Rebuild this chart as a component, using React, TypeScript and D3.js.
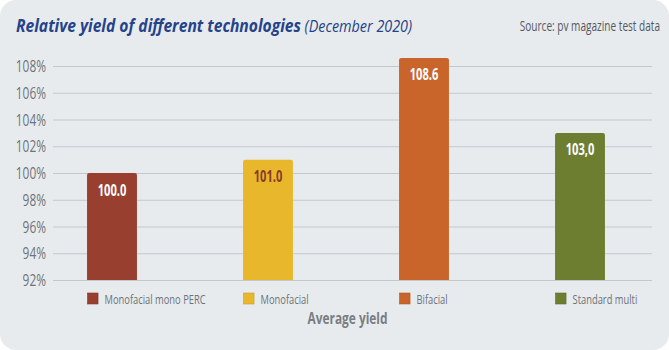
import React, { useEffect, useRef } from "react";
import * as d3 from "d3";

// chart data
const categories = ["Monofacial mono PERC", "Monofacial", "Bifacial", "Standard multi"];
const yieldValues = [100.0, 101.0, 108.6, 103.0];
const valueLabels = ["100.0", "101.0", "108.6", "103,0"];
const barColors = ["#983f30", "#e8b72c", "#c9652b", "#6e7e31"];
const labelColors = ["#ffffff", "#8a3a22", "#ffffff", "#ffffff"];
const yTicks = [92, 94, 96, 98, 100, 102, 104, 106, 108];

const FONT = "'Open Sans', 'DejaVu Sans', sans-serif";
const SX = 0.72; // squeeze to mimic a condensed face

const App = () => {
  const ref = useRef<SVGSVGElement>(null);

  useEffect(() => {
    renderChart();
  }, []);

  const renderChart = () => {
    const width = 669;
    const height = 350;
    const svg = d3.select(ref.current);
    svg.selectAll("*").remove();

    // condensed text helper
    const addText = (
      x: number,
      y: number,
      anchor: string,
      size: number,
      fill: string,
      weight = "normal",
      sx = SX
    ) =>
      svg
        .append("g")
        .attr("transform", `translate(${x},${y}) scale(${sx},1)`)
        .append("text")
        .attr("text-anchor", anchor)
        .attr("font-family", FONT)
        .attr("font-size", size)
        .attr("font-weight", weight)
        .attr("fill", fill);

    // Card background
    svg.append("rect").attr("width", width).attr("height", height).attr("fill", "#ffffff");
    svg
      .append("rect")
      .attr("width", width)
      .attr("height", height)
      .attr("rx", 16)
      .attr("fill", "#e8ebee");

    // Scales
    const x = d3
      .scaleBand<string>()
      .domain(categories)
      .range([34, 658])
      .paddingInner(0.68)
      .paddingOuter(0.34);
    const y = d3.scaleLinear().domain([92, 108]).range([280, 66]);

    // Grid lines
    svg
      .append("g")
      .attr("transform", "translate(53,0)")
      .call(
        d3
          .axisLeft(y)
          .tickValues(yTicks)
          .tickSize(-599)
          .tickFormat(() => "")
      )
      .call((g) => g.select(".domain").remove())
      .call((g) => g.selectAll("line").attr("stroke", "#c4c8cd").attr("stroke-width", 1));

    // Y tick labels
    yTicks.forEach((t) => {
      addText(46, y(t) + 6, "end", 16.5, "#6e7379").text(`${t}%`);
    });

    // Bars
    const bars = categories.map((c, i) => ({ c, v: yieldValues[i], i }));
    svg
      .selectAll(".bar")
      .data(bars)
      .enter()
      .append("path")
      .attr("class", "bar")
      .attr("fill", (d) => barColors[d.i])
      .attr("d", (d) => {
        const x0 = x(d.c)!;
        const w = x.bandwidth();
        const top = y(d.v);
        const bot = y(92);
        const r = 2;
        return `M${x0},${bot}V${top + r}Q${x0},${top} ${x0 + r},${top}H${x0 + w - r}Q${x0 + w},${top} ${x0 + w},${top + r}V${bot}Z`;
      });

    // Value labels
    bars.forEach((d) => {
      addText(x(d.c)! + x.bandwidth() / 2, y(d.v) + 22.5, "middle", 15.5, labelColors[d.i], "bold").text(
        valueLabels[d.i]
      );
    });

    // Legend
    bars.forEach((d) => {
      const lx = x(d.c)! + 0.5;
      svg
        .append("rect")
        .attr("x", lx)
        .attr("y", 293)
        .attr("width", 10.5)
        .attr("height", 11)
        .attr("fill", barColors[d.i])
        .attr("stroke", d3.color(barColors[d.i])!.darker(0.4).toString())
        .attr("stroke-width", 0.6);
      addText(lx + 17, 304, "start", 13, "#6e7379").text(d.c);
    });

    // Axis title
    addText(347.5, 323.5, "middle", 16.5, "#797e84", "bold").text("Average yield");

    // Title
    const title = addText(16, 31.5, "start", 18.5, "#25438a", "normal", 0.845);
    title
      .append("tspan")
      .attr("font-weight", "bold")
      .attr("font-style", "italic")
      .text("Relative yield of different technologies");
    title.append("tspan").attr("font-style", "italic").attr("font-size", 17).text(" (December 2020)");

    addText(660, 31, "end", 14, "#55595e").text("Source: pv magazine test data");
  };

  return (
    <svg
      ref={ref}
      width={669}
      height={350}
      style={{ position: "absolute", left: 0, top: 0, display: "block" }}
    />
  );
};

export default App;
